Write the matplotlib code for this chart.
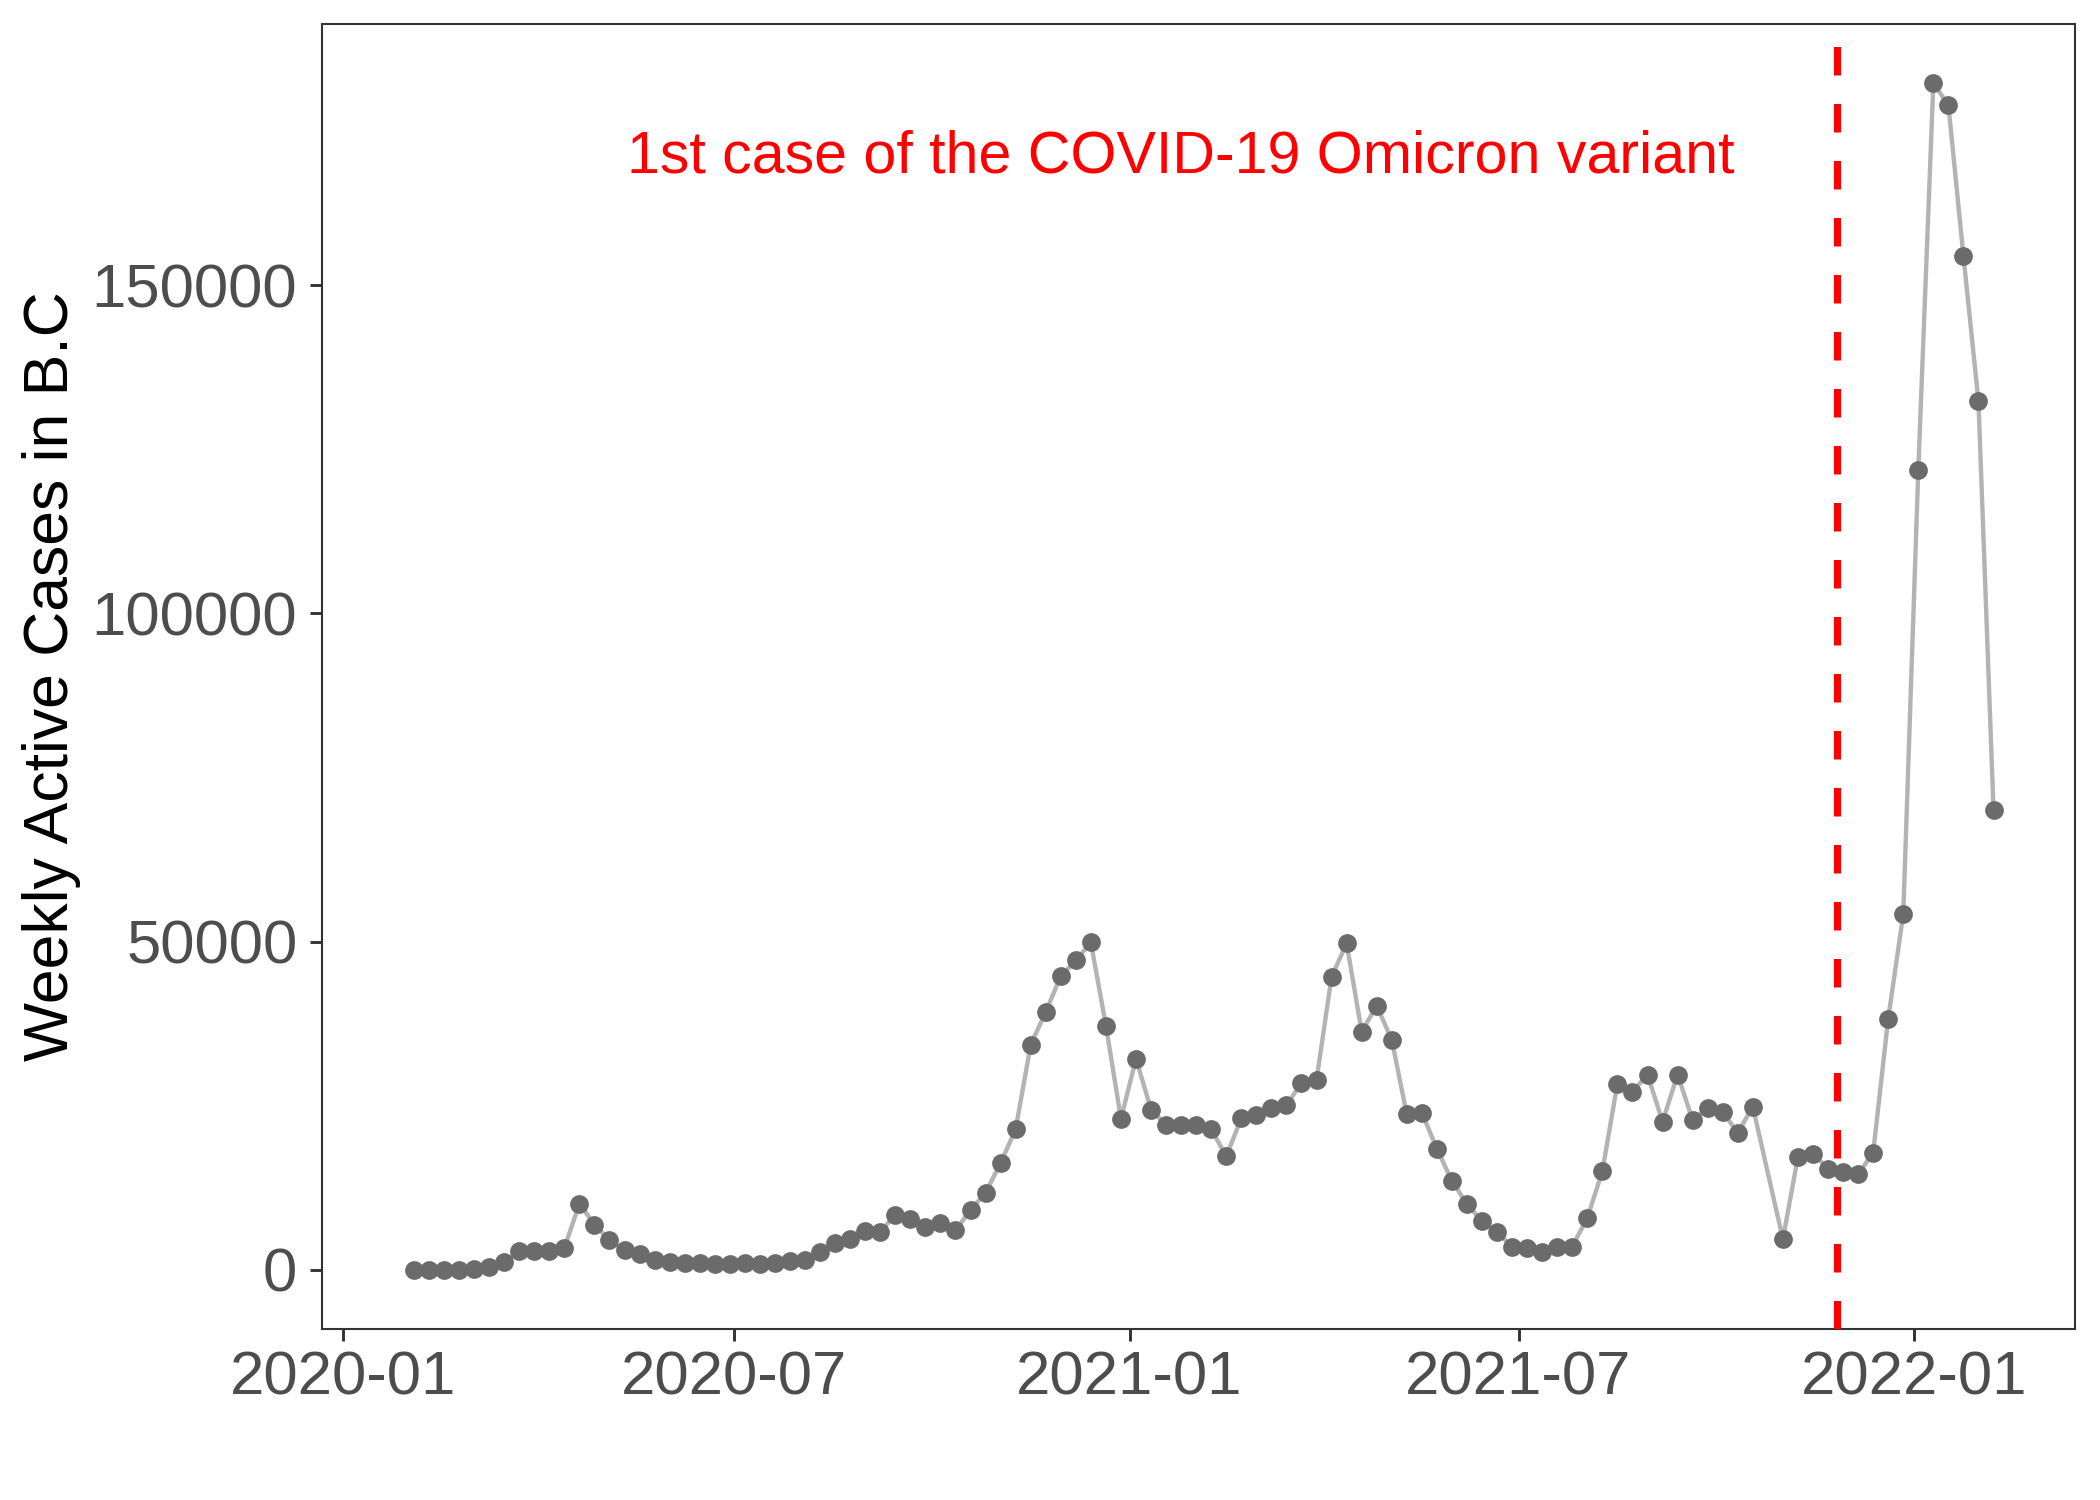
import numpy as np
import pandas as pd
import matplotlib
matplotlib.use("Agg")
import matplotlib.pyplot as plt
import matplotlib.dates as mdates

plt.rcParams['font.family'] = ['Liberation Sans', 'DejaVu Sans']

# weekly active cases in B.C; one week (2021-10-25) has no value
semanas = pd.date_range("2020-02-03", periods=106, freq="7D")
datas = semanas.delete(90)

casos = [
    0, 0, 10, 20, 100, 430, 1100, 2860, 2860, 2860,
    3270, 10070, 6880, 4490, 2970, 2360, 1550, 1100, 990, 990,
    880, 790, 990, 880, 1030, 1250, 1490, 2770, 3990, 4640,
    5900, 5750, 8400, 7680, 6510, 7070, 6010, 9100, 11740, 16250,
    21420, 34260, 39280, 44750, 47120, 49860, 37190, 23000, 32130, 24410,
    22030, 22030, 22030, 21420, 17260, 23090, 23500, 24670, 25070, 28480,
    28930, 44650, 49710, 36280, 40230, 35020, 23650, 23910, 18440, 13510,
    10010, 7380, 5750, 3470, 3270, 2770, 3530, 3530, 7880, 15030,
    28370, 27110, 29740, 22540, 29740, 22790, 24610, 24000, 20870, 24830,
    4640, 17220, 17680, 15390, 14880, 14530, 17830, 38260, 54180, 121920,
    180790, 177490, 154470, 132310, 70050,
]

data_omicron = pd.Timestamp("2021-11-26")
texto_omicron = "1st case of the COVID-19 Omicron variant"
pos_texto = (pd.Timestamp("2021-01-25"), 167200)

y_ticks = [0, 50000, 100000, 150000]

fig = plt.figure(figsize=(7, 5), dpi=300)
ax = fig.add_axes([0.1533, 0.114, 0.8348, 0.87])

ax.plot(datas, casos, color="#B3B3B3", linewidth=1.05, zorder=2)
ax.plot(datas, casos, linestyle="none", marker="o", markersize=4.5,
        markerfacecolor="#6B6B6B", markeredgewidth=0, zorder=3)

# limites como o ggplot (5% de expansao em y)
faixa = max(casos) - min(casos)
y_min = min(casos) - 0.05 * faixa
y_max = max(casos) + 0.05 * faixa
ax.set_ylim(y_min, y_max)
ax.set_xlim(pd.Timestamp("2019-12-22 05:00"), pd.Timestamp("2022-03-16 22:00"))

# linha tracejada desenhada de baixo para cima (tracos comecam no eixo x)
ax.plot([data_omicron, data_omicron], [y_min, y_max], color="#FF0000",
        linewidth=1.71, dashes=(4, 4), zorder=4)
ax.text(pos_texto[0], pos_texto[1], texto_omicron, color="#FF0000",
        fontsize=14.2, ha="center", va="baseline")

ax.set_yticks(y_ticks)
ax.set_yticklabels([str(v) for v in y_ticks])
ax.xaxis.set_major_locator(mdates.MonthLocator(bymonth=[1, 7]))
ax.xaxis.set_major_formatter(mdates.DateFormatter("%Y-%m"))

ax.tick_params(axis="both", labelsize=14.8, labelcolor="#4D4D4D", color="#333333",
               length=2.8, width=0.7)
ax.tick_params(axis="y", pad=3.1)
ax.tick_params(axis="x", pad=2.4)

for lado in ax.spines.values():
    lado.set_color("#333333")
    lado.set_linewidth(0.5)

ax.set_ylabel("Weekly Active Cases in B.C", fontsize=15, color="black", labelpad=2.6)
ax.set_xlabel("")

fig.savefig("out.png", dpi=300, facecolor="white")
